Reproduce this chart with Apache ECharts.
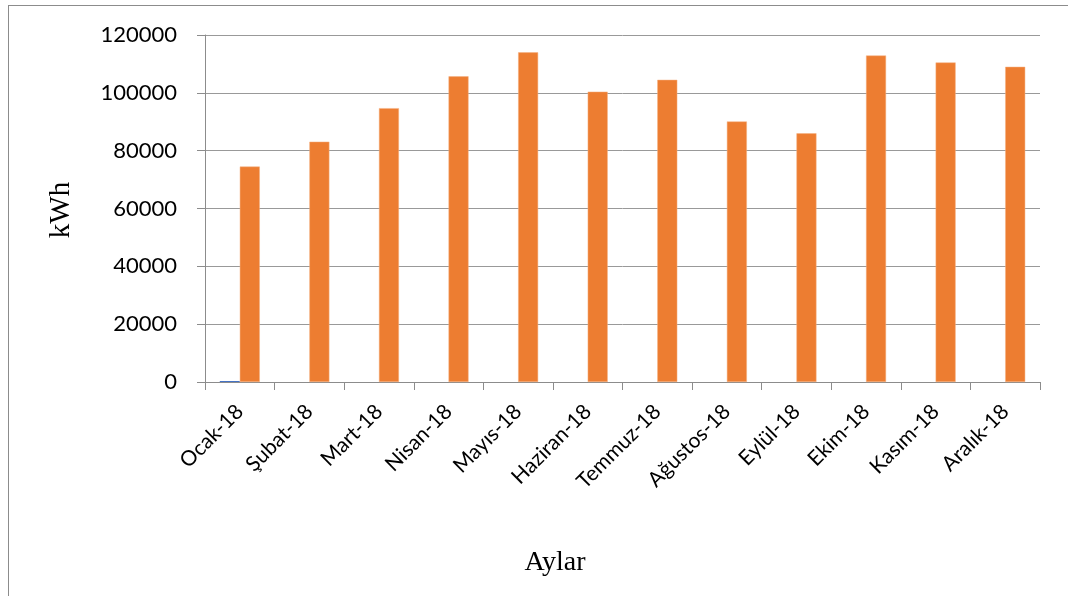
<!DOCTYPE html>
<html>
<head>
<meta charset="utf-8">
<script src="https://cdn.jsdelivr.net/npm/echarts@6/dist/echarts.min.js"></script>
<style>
  html, body { margin: 0; padding: 0; background: #fff; }
  #main { width: 1068px; height: 596px; position: relative; }
  .frame { position: absolute; left: 8px; top: 5px; width: 1200px; height: 700px; border: 1px solid #8c8c8c; }
</style>
</head>
<body>
<div id="main"></div>
<div class="frame"></div>
<script>
// aylar ve tüketim değerleri
var months = ['Ocak-18', 'Şubat-18', 'Mart-18', 'Nisan-18', 'Mayıs-18', 'Haziran-18',
  'Temmuz-18', 'Ağustos-18', 'Eylül-18', 'Ekim-18', 'Kasım-18', 'Aralık-18']
var firstSeries = [350, 0, 0, 0, 0, 0, 0, 0, 0, 0, 0, 0]
var energy = [74500, 83100, 94700, 105700, 114000, 100400, 104500, 90100, 86000, 112900, 110500, 109000]

var myChart = echarts.init(document.getElementById('main'))
var option = {
  animation: false,
  grid: { left: 205, right: 28, top: 35, bottom: 214 },
  xAxis: {
    type: 'category',
    data: months,
    axisLine: { lineStyle: { color: '#8c8c8c' } },
    axisTick: { show: true, length: 8, lineStyle: { color: '#8c8c8c' } },
    axisLabel: {
      rotate: 45,
      margin: 26,
      color: '#000',
      fontFamily: 'Lato',
      fontSize: 21
    }
  },
  yAxis: {
    type: 'value',
    min: 0,
    max: 120000,
    interval: 20000,
    axisLine: { show: true, lineStyle: { color: '#8c8c8c' } },
    axisTick: { show: true, length: 8, lineStyle: { color: '#8c8c8c' } },
    splitLine: { lineStyle: { color: '#999' } },
    axisLabel: {
      margin: 28,
      color: '#000',
      fontFamily: 'Lato',
      fontSize: 22,
      formatter: function (v) { return String(v) }
    }
  },
  series: [
    {
      type: 'bar',
      data: firstSeries,
      barWidth: 20,
      barGap: '0%',
      itemStyle: { color: '#4472c4' }
    },
    {
      type: 'bar',
      data: energy,
      barWidth: 20,
      barGap: '0%',
      itemStyle: { color: '#ed7d31', borderColor: '#f4b183', borderWidth: 0.5 }
    }
  ],
  graphic: [
    {
      type: 'text',
      x: 61,
      y: 210,
      rotation: Math.PI / 2,
      style: {
        text: 'kWh',
        fontFamily: 'Liberation Serif',
        fontSize: 29,
        fill: '#000',
        align: 'center',
        verticalAlign: 'middle'
      }
    },
    {
      type: 'text',
      x: 555,
      y: 563,
      style: {
        text: 'Aylar',
        fontFamily: 'Liberation Serif',
        fontSize: 28,
        fill: '#000',
        align: 'center',
        verticalAlign: 'middle'
      }
    }
  ]
}
myChart.setOption(option)
</script>
</body>
</html>
